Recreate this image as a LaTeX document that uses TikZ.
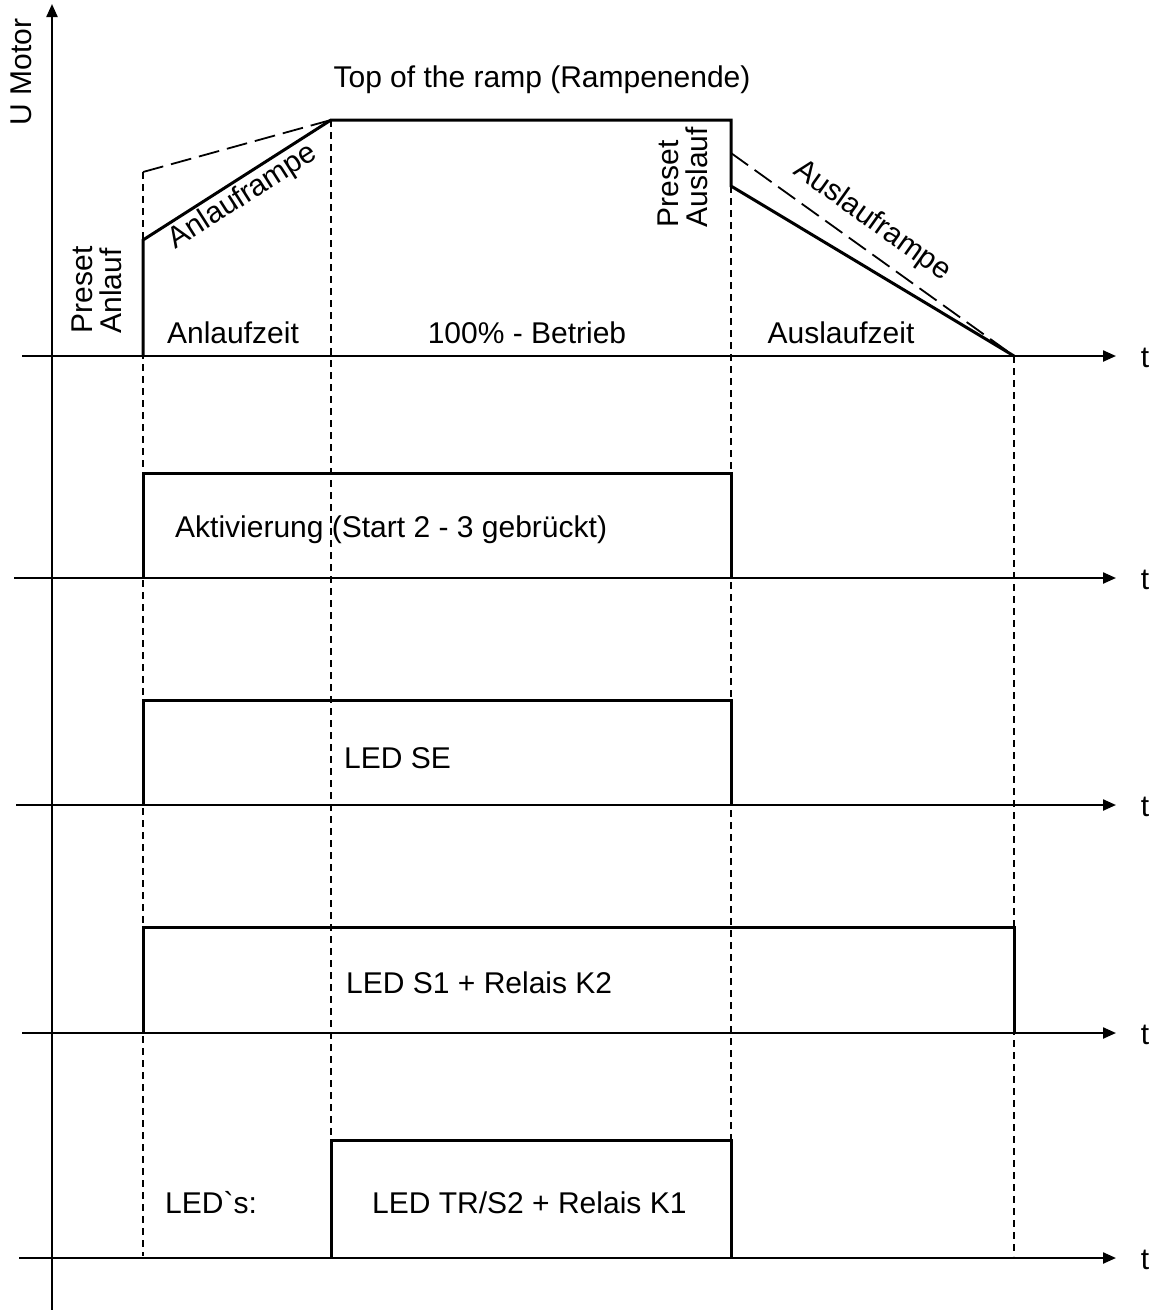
\documentclass[tikz,border=0pt]{standalone}
\usepackage{fontspec}
\setmainfont{Liberation Sans}
\newfontfamily\rawfont{Liberation Sans}
\usetikzlibrary{arrows.meta}
\begin{document}
\begin{tikzpicture}[x=1pt,y=-1pt,
  axis/.style={line width=2.3pt,-{Triangle[length=13pt,width=11pt]}},
  sig/.style={line width=3pt,line join=miter},
  guide/.style={line width=1.4pt,dash pattern=on 7pt off 5pt},
  preset/.style={line width=1.8pt,dash pattern=on 21pt off 8pt},
  lbl/.style={inner sep=0pt,font=\fontsize{30}{29}\selectfont},
  tlbl/.style={lbl,anchor=base}]
\useasboundingbox (0,0) rectangle (1154,1310);
% coordinates
\coordinate (vb) at (52,1310);
\coordinate (vt) at (52,4);
\foreach \n/\y/\x in {1/356/22,2/578/14,3/805/16,4/1033/22,5/1258/19}{
  \coordinate (a\n s) at (\x,\y);
  \coordinate (a\n e) at (1116,\y);
}
% dashed guide lines
\coordinate (g1t) at (143,172); \coordinate (g1b) at (143,1256);
\coordinate (g2t) at (331,120); \coordinate (g2b) at (331,1140);
\coordinate (g3t) at (731,186); \coordinate (g3b) at (731,1140);
\coordinate (g4t) at (1014,356); \coordinate (g4b) at (1014,1256);
\draw[guide] (g1t) -- (g1b);
\draw[guide] (g2t) -- (g2b);
\draw[guide] (g3t) -- (g3b);
\draw[guide] (g4t) -- (g4b);
% axes
\draw[axis] (vb) -- (vt);
\foreach \n in {1,...,5}{\draw[axis] (a\n s) -- (a\n e);}
% motor voltage
\coordinate (m0) at (143,356);
\coordinate (m1) at (143,240);
\coordinate (m2) at (331,120);
\coordinate (m3) at (731,120);
\coordinate (m4) at (731,186);
\coordinate (m5) at (1014,356);
\draw[sig] (m0) -- (m1) -- (m2) -- (m3) -- (m4) -- (m5);
\coordinate (p1) at (143,172);
\coordinate (p2) at (731,153);
\draw[preset] (p1) -- (m2);
\draw[preset] (p2) -- (m5);
% pulses
\draw[sig] (143,578) -- (143,473) -- (731,473) -- (731,578);
\draw[sig] (143,805) -- (143,700) -- (731,700) -- (731,805);
\draw[sig] (143,1033) -- (143,927) -- (1014,927) -- (1014,1033);
\draw[sig] (331,1258) -- (331,1140) -- (731,1140) -- (731,1258);
% labels
\node[lbl,rotate=90] (um) at (21,72) {U Motor};
\node[lbl,rotate=90,align=left] (pa) at (97,290) {Preset\\Anlauf};
\node[lbl,rotate=90,align=left] (pau) at (683,177) {Preset\\Auslauf};
\node[lbl,rotate=32.5] (ar) at (243,197) {Anlauframpe};
\node[lbl,rotate=-35.5] (aur) at (872,221) {Auslauframpe};
\node[tlbl] (top) at (542,87) {Top of the ramp (Rampenende)};
\node[tlbl] (az) at (233,343) {Anlaufzeit};
\node[tlbl] (bt) at (527,343) {100\% - Betrieb};
\node[tlbl] (auz) at (841,343) {Auslaufzeit};
\node[tlbl,anchor=base west] (akt) at (175,537) {Aktivierung (Start 2 - 3 gebrückt)};
\node[tlbl,anchor=base west] (lse) at (344,768) {LED SE};
\node[tlbl,anchor=base west] (ls1) at (346,993) {LED S1 + Relais K2};
\node[tlbl,anchor=base west] (leds) at (165,1213) {LED{\rawfont`}s:};
\node[tlbl,anchor=base west] (ltr) at (372,1213) {LED TR/S2 + Relais K1};
\foreach \n/\y in {1/356,2/578,3/805,4/1033,5/1258}{
  \node[tlbl] (t\n) at (1145,\y+11) {t};
}
\end{tikzpicture}
\end{document}
